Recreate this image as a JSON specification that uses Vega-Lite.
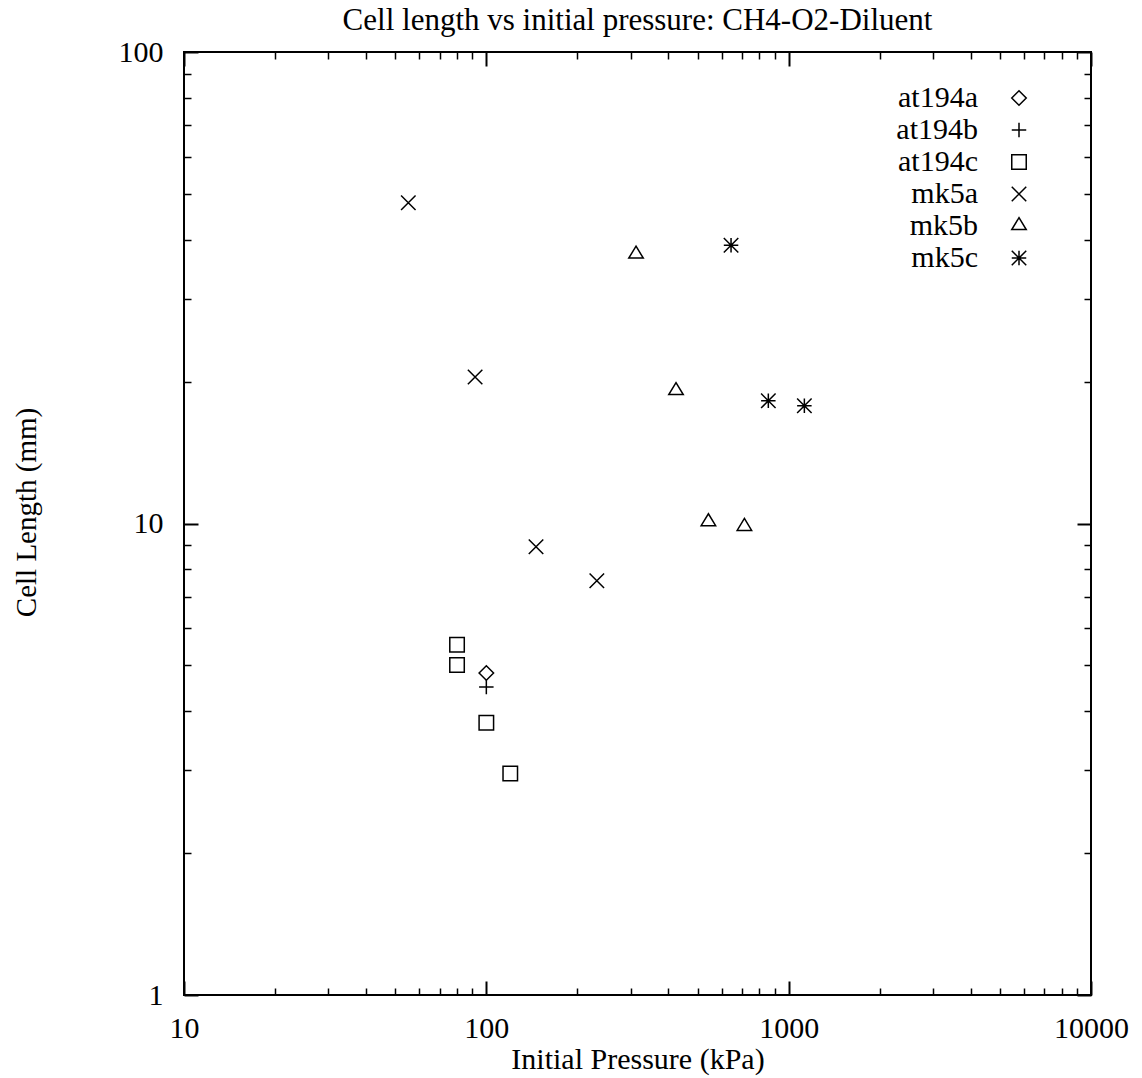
{
  "$schema": "https://vega.github.io/schema/vega-lite/v6.json",
  "width": 907,
  "height": 943,
  "autosize": {"type": "none"},
  "padding": {"left": 184, "top": 52, "right": 51, "bottom": 83},
  "background": "white",
  "config": {
    "font": "Liberation Serif",
    "view": {"stroke": "black", "strokeWidth": 2},
    "axis": {"labelColor": "black", "titleColor": "black", "tickColor": "black", "labelFont": "Liberation Serif", "titleFont": "Liberation Serif", "titleFontWeight": "normal"},
    "legend": {"labelFont": "Liberation Serif"}
  },
  "title": {"text": "Cell length vs initial pressure: CH4-O2-Diluent", "font": "Liberation Serif", "fontSize": 31, "fontWeight": "normal", "color": "black", "anchor": "middle", "frame": "group", "baseline": "alphabetic", "offset": -24},
  "data": {"values": [
    {"series": "at194a", "p": 100, "L": 4.82},
    {"series": "at194b", "p": 100, "L": 4.5},
    {"series": "at194c", "p": 80, "L": 5.53},
    {"series": "at194c", "p": 80, "L": 5.01},
    {"series": "at194c", "p": 100, "L": 3.78},
    {"series": "at194c", "p": 120, "L": 2.95},
    {"series": "mk5a", "p": 55.2, "L": 47.9},
    {"series": "mk5a", "p": 91.8, "L": 20.45},
    {"series": "mk5a", "p": 146, "L": 8.93},
    {"series": "mk5a", "p": 232, "L": 7.56},
    {"series": "mk5b", "p": 312.7, "L": 37.2},
    {"series": "mk5b", "p": 424, "L": 19.1},
    {"series": "mk5b", "p": 542.6, "L": 10.07},
    {"series": "mk5b", "p": 713.8, "L": 9.84},
    {"series": "mk5c", "p": 644.8, "L": 38.9},
    {"series": "mk5c", "p": 856.5, "L": 18.21},
    {"series": "mk5c", "p": 1127, "L": 17.77}
  ]},
  "resolve": {"axis": {"x": "independent", "y": "independent"}},
  "layer": [
    {
      "mark": {"type": "point", "filled": false, "color": "black", "strokeWidth": 1.5, "size": 210, "opacity": 1},
      "encoding": {
        "x": {"field": "p", "type": "quantitative", "scale": {"type": "log", "domain": [10, 10000], "nice": false},
          "axis": {"orient": "bottom", "values": [10, 100, 1000, 10000], "format": "d", "ticks": false, "domain": false, "grid": false, "labelPadding": 18, "labelFontSize": 30, "labelFlush": false, "labelOverlap": false, "labelBound": false,
            "title": "Initial Pressure (kPa)", "titleFontSize": 30, "titleBaseline": "alphabetic", "titleY": 73, "titleX": 453.5}},
        "y": {"field": "L", "type": "quantitative", "scale": {"type": "log", "domain": [1, 100], "nice": false},
          "axis": {"orient": "left", "values": [1, 10, 100], "format": "d", "ticks": false, "domain": false, "grid": false, "labelPadding": 21, "labelFontSize": 30, "labelFlush": false, "labelOverlap": false, "labelBound": false,
            "title": "Cell Length (mm)", "titleFontSize": 29, "titleAngle": -90, "titleBaseline": "middle", "titleX": -158, "titleY": 460}},
        "shape": {"field": "series", "type": "nominal",
          "scale": {"domain": ["at194a", "at194b", "at194c", "mk5a", "mk5b", "mk5c"],
            "range": ["M-1,0L0,-1L1,0L0,1Z", "M-1,0L1,0M0,-1L0,1", "M-1,-1L1,-1L1,1L-1,1Z", "M-1,-1L1,1M-1,1L1,-1", "M0,-1.15L1,0.5L-1,0.5Z", "M-1,0L1,0M0,-1L0,1M-1,-1L1,1M-1,1L1,-1"]},
          "legend": {"title": null, "orient": "none", "legendX": 820, "legendY": 31, "padding": 0, "labelFontSize": 30, "labelAlign": "right", "labelOffset": -56, "labelColor": "black", "rowPadding": 2, "symbolSize": 210, "symbolStrokeColor": "black", "symbolStrokeWidth": 1.5, "symbolFillColor": "transparent"}}
      }
    },
    {
      "mark": {"type": "point", "opacity": 0},
      "encoding": {
        "x": {"field": "p", "type": "quantitative", "scale": {"type": "log", "domain": [10, 10000], "nice": false},
          "axis": {"orient": "bottom", "values": [10, 100, 1000, 10000], "labels": false, "domain": false, "grid": false, "title": null, "tickSize": -14, "tickWidth": 2}},
        "y": {"field": "L", "type": "quantitative", "scale": {"type": "log", "domain": [1, 100], "nice": false},
          "axis": {"orient": "left", "values": [1, 10, 100], "labels": false, "domain": false, "grid": false, "title": null, "tickSize": -14, "tickWidth": 2}}
      }
    },
    {
      "mark": {"type": "point", "opacity": 0},
      "encoding": {
        "x": {"field": "p", "type": "quantitative", "scale": {"type": "log", "domain": [10, 10000], "nice": false},
          "axis": {"orient": "bottom", "values": [20, 30, 40, 50, 60, 70, 80, 90, 200, 300, 400, 500, 600, 700, 800, 900, 2000, 3000, 4000, 5000, 6000, 7000, 8000, 9000], "labels": false, "domain": false, "grid": false, "title": null, "tickSize": -7, "tickWidth": 1.5}},
        "y": {"field": "L", "type": "quantitative", "scale": {"type": "log", "domain": [1, 100], "nice": false},
          "axis": {"orient": "left", "values": [2, 3, 4, 5, 6, 7, 8, 9, 20, 30, 40, 50, 60, 70, 80, 90], "labels": false, "domain": false, "grid": false, "title": null, "tickSize": -7, "tickWidth": 1.5}}
      }
    },
    {
      "mark": {"type": "point", "opacity": 0},
      "encoding": {
        "x": {"field": "p", "type": "quantitative", "scale": {"type": "log", "domain": [10, 10000], "nice": false},
          "axis": {"orient": "top", "values": [10, 100, 1000, 10000], "labels": false, "domain": false, "grid": false, "title": null, "tickSize": -14, "tickWidth": 2}},
        "y": {"field": "L", "type": "quantitative", "scale": {"type": "log", "domain": [1, 100], "nice": false},
          "axis": {"orient": "right", "values": [1, 10, 100], "labels": false, "domain": false, "grid": false, "title": null, "tickSize": -14, "tickWidth": 2}}
      }
    },
    {
      "mark": {"type": "point", "opacity": 0},
      "encoding": {
        "x": {"field": "p", "type": "quantitative", "scale": {"type": "log", "domain": [10, 10000], "nice": false},
          "axis": {"orient": "top", "values": [20, 30, 40, 50, 60, 70, 80, 90, 200, 300, 400, 500, 600, 700, 800, 900, 2000, 3000, 4000, 5000, 6000, 7000, 8000, 9000], "labels": false, "domain": false, "grid": false, "title": null, "tickSize": -7, "tickWidth": 1.5}},
        "y": {"field": "L", "type": "quantitative", "scale": {"type": "log", "domain": [1, 100], "nice": false},
          "axis": {"orient": "right", "values": [2, 3, 4, 5, 6, 7, 8, 9, 20, 30, 40, 50, 60, 70, 80, 90], "labels": false, "domain": false, "grid": false, "title": null, "tickSize": -7, "tickWidth": 1.5}}
      }
    }
  ]
}
